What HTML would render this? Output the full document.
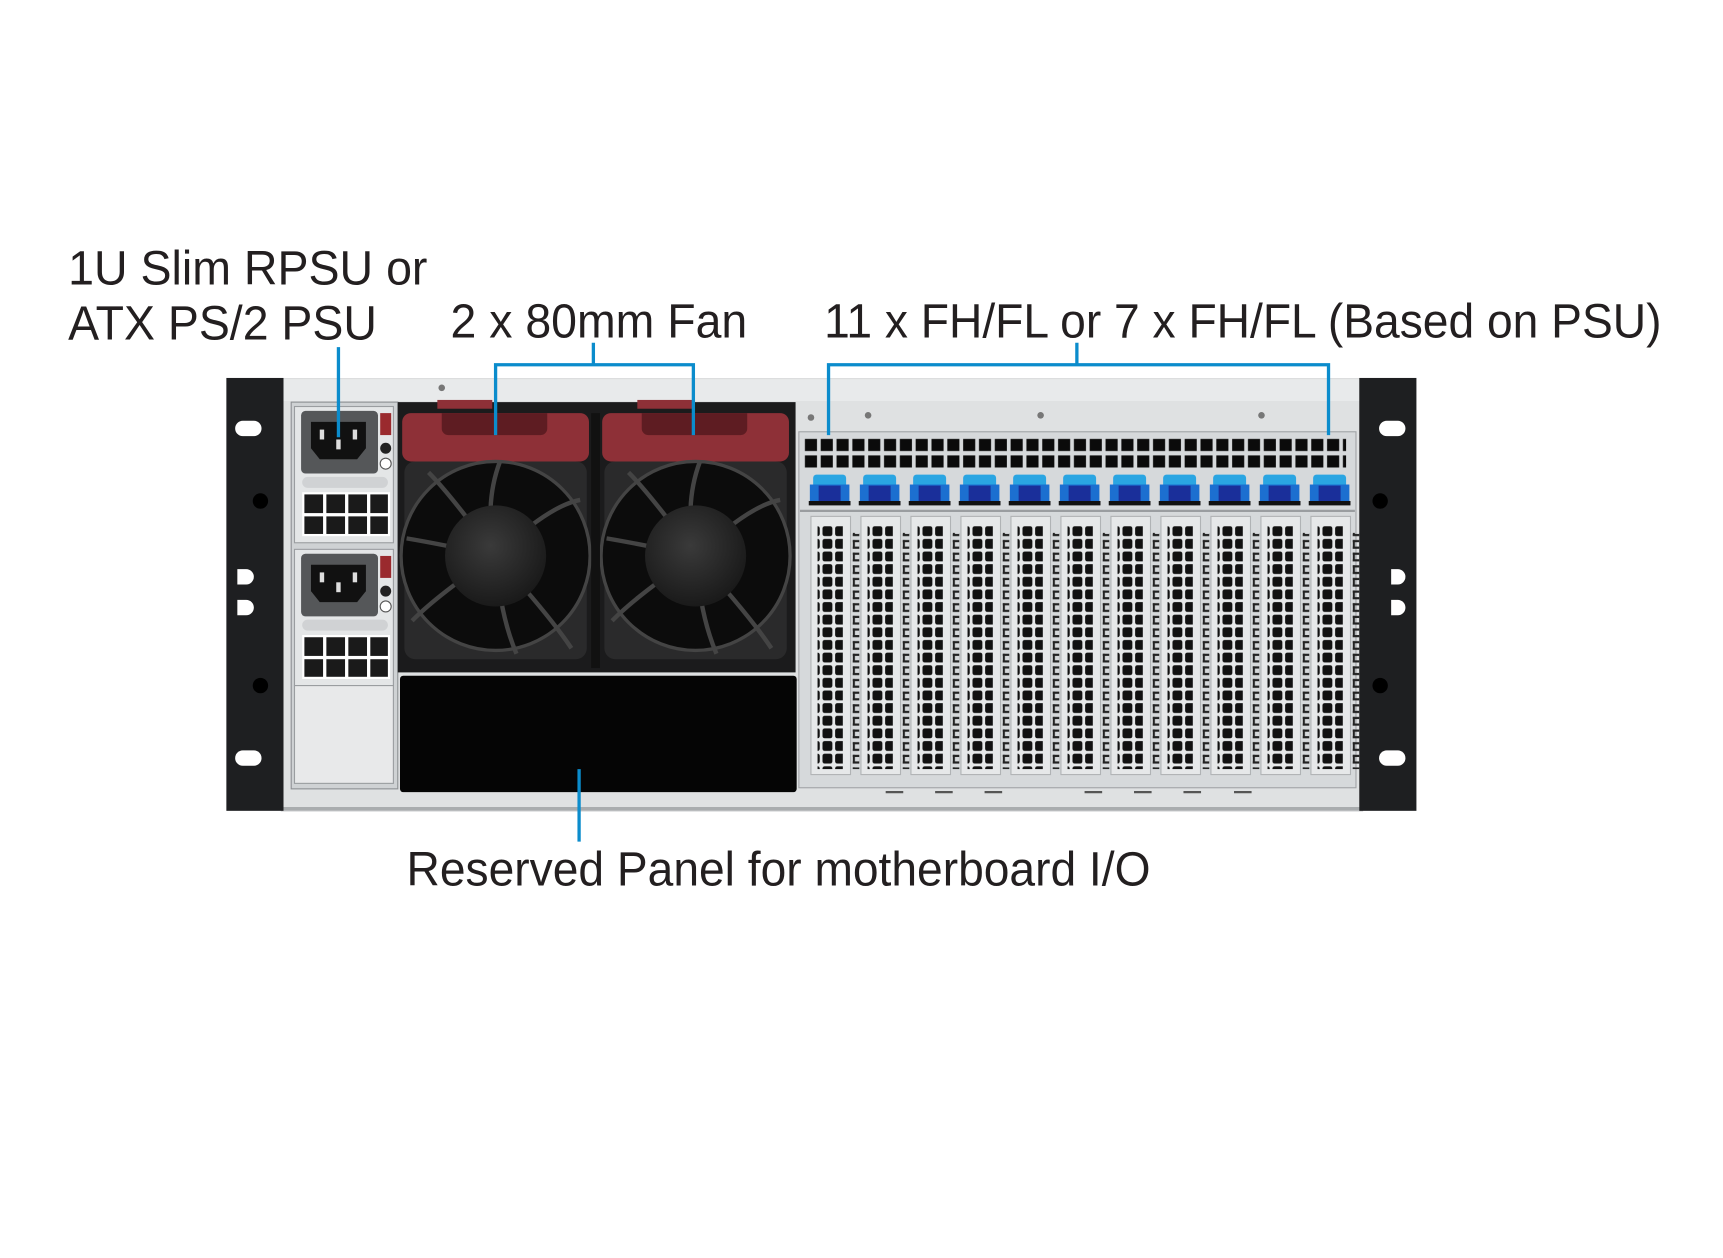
<!DOCTYPE html>
<html><head><meta charset="utf-8"><style>
html,body{margin:0;padding:0;background:#fff;}
svg{display:block;}
text{font-family:"Liberation Sans",Arial,sans-serif;fill:#231f20;}
</style></head><body>
<svg width="1723" height="1258" viewBox="0 0 1568 1145" preserveAspectRatio="none" xmlns="http://www.w3.org/2000/svg">
<defs>
<pattern id="vent" x="731" y="398" width="14.4" height="15" patternUnits="userSpaceOnUse">
<rect x="1.5" y="1.5" width="11" height="11" fill="#0b0b0b"/>
</pattern>
<pattern id="perf" x="0" y="478" width="11.5" height="11.5" patternUnits="userSpaceOnUse">
<rect x="1" y="1" width="9" height="9" rx="2" fill="#111"/>
</pattern>
<pattern id="ibar" x="0" y="478" width="6" height="11.5" patternUnits="userSpaceOnUse">
<rect x="0" y="2" width="6" height="2" fill="#222"/><rect x="2" y="2" width="2" height="7" fill="#222"/><rect x="0" y="8" width="6" height="2" fill="#222"/>
</pattern>
<radialGradient id="hub" cx="0.45" cy="0.4" r="0.6"><stop offset="0" stop-color="#3a3a3a"/><stop offset="1" stop-color="#1a1a1a"/></radialGradient>
</defs>

<text x="62" y="259" font-size="44" textLength="327" lengthAdjust="spacingAndGlyphs">1U Slim RPSU or</text>
<text x="62" y="309" font-size="44" textLength="281" lengthAdjust="spacingAndGlyphs">ATX PS/2 PSU</text>
<text x="410" y="307" font-size="44" textLength="270" lengthAdjust="spacingAndGlyphs">2 x 80mm Fan</text>
<text x="750" y="307" font-size="44" textLength="762" lengthAdjust="spacingAndGlyphs">11 x FH/FL or 7 x FH/FL (Based on PSU)</text>
<text x="370" y="806" font-size="44" textLength="677" lengthAdjust="spacingAndGlyphs">Reserved Panel for motherboard I/O</text>

<rect x="256" y="345" width="984" height="393" fill="#dfe1e2" stroke="#b8bbbd" stroke-width="1"/>
<rect x="256" y="345" width="984" height="20" fill="#e8eaeb"/>
<line x1="256" y1="736" x2="1240" y2="736" stroke="#a9acae" stroke-width="3"/>
<circle cx="402" cy="353" r="3" fill="#777"/>
<circle cx="738" cy="380" r="3" fill="#777"/><circle cx="790" cy="378" r="3" fill="#777"/><circle cx="947" cy="378" r="3" fill="#777"/><circle cx="1148" cy="378" r="3" fill="#777"/>

<rect x="206" y="344" width="52" height="394" fill="#1e1f21"/>
<rect x="1237" y="344" width="52" height="394" fill="#1e1f21"/>
<g fill="#fff">
<rect x="214" y="383" width="24" height="14" rx="7"/><rect x="214" y="683" width="24" height="14" rx="7"/>
<path d="M216 518 h8 a6 6 0 0 1 0 14 h-8z"/><path d="M216 546 h8 a6 6 0 0 1 0 14 h-8z"/>
<rect x="1255" y="383" width="24" height="14" rx="7"/><rect x="1255" y="683" width="24" height="14" rx="7"/>
<path d="M1266 518 h6 a6 6 0 0 1 0 14 h-6z"/><path d="M1266 546 h6 a6 6 0 0 1 0 14 h-6z"/>
</g>
<circle cx="237" cy="456" r="7" fill="#000"/><circle cx="237" cy="624" r="7" fill="#000"/>
<circle cx="1256" cy="456" r="7" fill="#000"/><circle cx="1256" cy="624" r="7" fill="#000"/>

<rect x="265" y="366" width="97" height="352" fill="#cfd2d4" stroke="#8d9093"/>
<g id="psu">
<rect x="268" y="370" width="90" height="124" fill="#e4e6e7" stroke="#9a9da0"/>
<rect x="274" y="374" width="70" height="57" rx="4" fill="#555759"/>
<path d="M283 384 h50 v24 l-8 10 h-34 l-8 -10z" fill="#111"/>
<rect x="291" y="391" width="4" height="9" fill="#ddd"/><rect x="321" y="391" width="4" height="9" fill="#ddd"/><rect x="306" y="400" width="4" height="9" fill="#ddd"/>
<rect x="346" y="376" width="10" height="20" fill="#9a2a2e"/>
<circle cx="351" cy="408" r="5" fill="#222"/><circle cx="351" cy="422" r="5" fill="#fff" stroke="#555"/>
<rect x="275" y="434" width="78" height="10" rx="5" fill="#d0d2d4"/>
<rect x="275" y="448" width="80" height="40" fill="#fff"/>
<g fill="#1a1a1a">
<rect x="277" y="450" width="17" height="17"/><rect x="297" y="450" width="17" height="17"/><rect x="317" y="450" width="17" height="17"/><rect x="337" y="450" width="16" height="17"/>
<rect x="277" y="470" width="17" height="16"/><rect x="297" y="470" width="17" height="16"/><rect x="317" y="470" width="17" height="16"/><rect x="337" y="470" width="16" height="16"/>
</g>
</g>
<use href="#psu" y="130"/>
<rect x="268" y="624" width="90" height="89" fill="#e8e9ea" stroke="#9a9da0"/>

<rect x="362" y="366" width="362" height="246" fill="#1b1b1c"/>
<g id="fan">
<rect x="366" y="376" width="170" height="44" rx="8" fill="#8e3037"/>
<path d="M402 376 v14 a6 6 0 0 0 6 6 h84 a6 6 0 0 0 6 -6 v-14z" fill="#5e1c22"/>
<rect x="398" y="364" width="50" height="8" fill="#8e3037"/>
<rect x="368" y="420" width="166" height="180" rx="10" fill="#2a2a2b"/>
<circle cx="451" cy="506" r="86" fill="#0c0c0c" stroke="#444" stroke-width="3"/>
<g stroke="#444" stroke-width="4" fill="none">
<path d="M451 506 Q410 450 390 430"/><path d="M451 506 Q500 460 528 455"/><path d="M451 506 Q500 560 520 590"/><path d="M451 506 Q400 540 375 565"/><path d="M451 506 Q440 460 455 420"/><path d="M451 506 Q400 495 370 490"/><path d="M451 506 Q455 560 470 595"/>
</g>
<circle cx="451" cy="506" r="46" fill="url(#hub)"/>
</g>
<use href="#fan" x="182"/>
<rect x="538" y="376" width="8" height="232" fill="#111"/>

<rect x="364" y="615" width="361" height="106" rx="3" fill="#050505"/>

<rect x="727" y="393" width="507" height="324" fill="#d6d9db" stroke="#a0a3a6"/>
<rect x="731" y="398" width="494" height="30" fill="url(#vent)"/>
<g id="clip">
<rect x="740" y="432" width="30" height="12" rx="3" fill="#2aa5e2"/>
<rect x="737" y="441" width="36" height="16" fill="#1c6fd0"/>
<rect x="745" y="442" width="20" height="14" fill="#1a2f9a"/>
<rect x="736" y="456" width="38" height="4" fill="#111"/>
</g>
<use href="#clip" x="45.5"/><use href="#clip" x="91"/><use href="#clip" x="136.5"/><use href="#clip" x="182"/><use href="#clip" x="227.5"/><use href="#clip" x="273"/><use href="#clip" x="318.5"/><use href="#clip" x="364"/><use href="#clip" x="409.5"/><use href="#clip" x="455"/>
<line x1="728" y1="465" x2="1233" y2="465" stroke="#9a9da0" stroke-width="2"/>
<g id="slot">
<rect x="738" y="470" width="36" height="235" fill="#e6e8e9" stroke="#b0b3b5"/>
<rect x="744" y="478" width="23" height="222" fill="url(#perf)"/>
<rect x="776" y="485" width="6" height="215" fill="url(#ibar)"/>
</g>
<use href="#slot" x="45.5"/><use href="#slot" x="91"/><use href="#slot" x="136.5"/><use href="#slot" x="182"/><use href="#slot" x="227.5"/><use href="#slot" x="273"/><use href="#slot" x="318.5"/><use href="#slot" x="364"/><use href="#slot" x="409.5"/><use href="#slot" x="455"/>
<g stroke="#555" stroke-width="2">
<line x1="806" y1="721" x2="822" y2="721"/><line x1="851" y1="721" x2="867" y2="721"/><line x1="896" y1="721" x2="912" y2="721"/><line x1="987" y1="721" x2="1003" y2="721"/><line x1="1032" y1="721" x2="1048" y2="721"/><line x1="1077" y1="721" x2="1093" y2="721"/><line x1="1123" y1="721" x2="1139" y2="721"/>
</g>

<g stroke="#0b8ccc" stroke-width="3" fill="none">
<path d="M308 316 V398"/>
<path d="M540 312 V332 M451 396 V332 H631 V396"/>
<path d="M980 312 V332 M754 396 V332 H1209 V396"/>
<path d="M527 700 V766"/>
</g>
</svg>
</body></html>
